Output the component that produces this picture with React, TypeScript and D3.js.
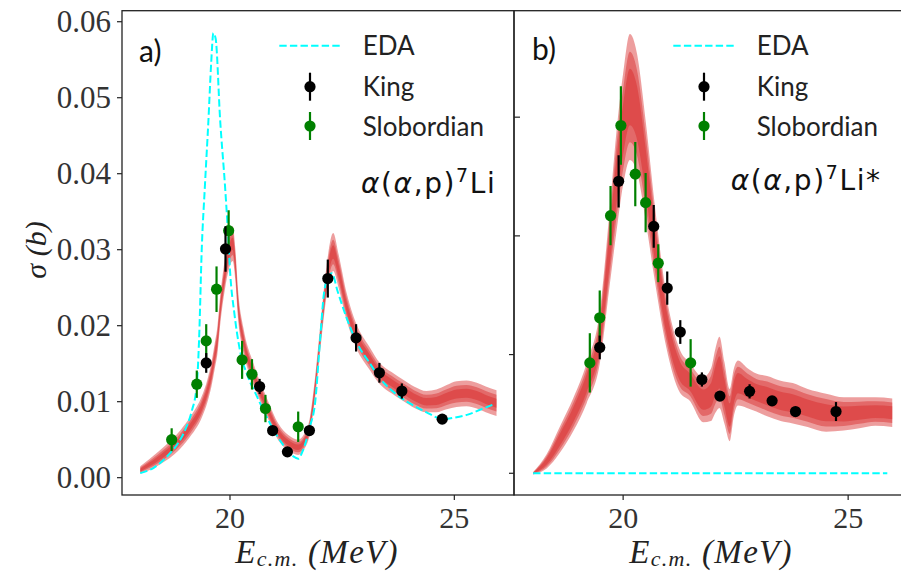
import React from "react";
import * as d3 from "d3";

// ---------- data ----------
const ticksLeftY = [0, 0.01, 0.02, 0.03, 0.04, 0.05, 0.06];
const ticksLeftYLabels = ["0.00", "0.01", "0.02", "0.03", "0.04", "0.05", "0.06"];
const ticksRightY = [0, 0.01, 0.02, 0.03];
const ticksX = [20, 25];

// Panel a) EDA curve
const edaLeftE = [18.0, 18.3, 18.66, 18.85, 19.03, 19.15, 19.26, 19.31, 19.37, 19.44, 19.52, 19.58, 19.63, 19.68, 19.78, 19.89, 19.96, 20.0, 20.1, 20.22, 20.4, 20.6, 20.8, 20.97, 21.2, 21.41, 21.52, 21.62, 21.78, 21.9, 22.0, 22.1, 22.2, 22.27, 22.4, 22.6, 22.85, 23.1, 23.34, 23.7, 24.0, 24.38, 24.75, 25.0, 25.3, 25.6, 25.9];
const edaLeftS = [0.0006, 0.0013, 0.0032, 0.0046, 0.0067, 0.0088, 0.0122, 0.018, 0.03, 0.0383, 0.0471, 0.0545, 0.0585, 0.0578, 0.0471, 0.0383, 0.0317, 0.0273, 0.0215, 0.0168, 0.0133, 0.0107, 0.0082, 0.0063, 0.0042, 0.0028, 0.0025, 0.0035, 0.0067, 0.01, 0.0175, 0.0245, 0.0265, 0.0269, 0.0245, 0.021, 0.0175, 0.0152, 0.0131, 0.011, 0.0098, 0.0086, 0.0077, 0.0079, 0.0083, 0.009, 0.0097];

// Panel a) model band
const bandLeftE = [18.0, 18.4, 18.89, 19.15, 19.37, 19.5, 19.59, 19.66, 19.72, 19.79, 19.89, 19.97, 20.06, 20.12, 20.18, 20.3, 20.52, 20.82, 21.08, 21.3, 21.52, 21.65, 21.78, 21.9, 22.04, 22.15, 22.3, 22.42, 22.6, 22.82, 23.1, 23.34, 23.6, 23.86, 24.1, 24.38, 24.6, 24.83, 25.05, 25.27, 25.5, 25.7, 25.94];
const bandLeftMid = [0.001, 0.0025, 0.005, 0.007, 0.0093, 0.0115, 0.0137, 0.016, 0.0181, 0.0225, 0.0269, 0.0295, 0.0308, 0.028, 0.0228, 0.0181, 0.0137, 0.0093, 0.006, 0.0046, 0.004, 0.0047, 0.0068, 0.012, 0.02, 0.0258, 0.0297, 0.0272, 0.0225, 0.0186, 0.0158, 0.0137, 0.0125, 0.0115, 0.0106, 0.01, 0.0101, 0.0106, 0.011, 0.0111, 0.0108, 0.0103, 0.0098];
const bandLeftHw = [0.0005, 0.0009, 0.0012, 0.0013, 0.0014, 0.0015, 0.0016, 0.0017, 0.0018, 0.0019, 0.002, 0.0022, 0.0023, 0.0021, 0.0019, 0.0016, 0.0014, 0.0012, 0.0011, 0.001, 0.001, 0.001, 0.0011, 0.0014, 0.0017, 0.002, 0.0025, 0.0022, 0.0018, 0.0016, 0.0015, 0.0014, 0.0014, 0.0014, 0.0014, 0.0014, 0.0015, 0.0016, 0.0017, 0.0017, 0.0017, 0.0017, 0.0017];

// Panel a) data
const kingLeftE = [19.47, 19.9, 20.66, 20.95, 21.28, 21.77, 22.18, 22.81, 23.33, 23.83, 24.73];
const kingLeftS = [0.0151, 0.0301, 0.012, 0.0062, 0.0034, 0.0062, 0.0262, 0.0184, 0.0138, 0.0114, 0.0077];
const kingLeftErr = [0.0013, 0.003, 0.001, 0.0005, 0.0004, 0.0005, 0.0025, 0.0018, 0.0013, 0.001, 0.0006];
const slobLeftE = [18.7, 19.26, 19.47, 19.7, 19.97, 20.27, 20.49, 20.79, 21.52];
const slobLeftS = [0.005, 0.0123, 0.018, 0.0248, 0.0325, 0.0155, 0.0136, 0.0091, 0.0067];
const slobLeftErr = [0.0015, 0.0018, 0.0022, 0.003, 0.0027, 0.0025, 0.002, 0.0018, 0.002];

// Panel b) EDA (flat)
const edaRightE = [18.0, 25.87];
const edaRightS = [0, 0];

// Panel b) model band
const bandRightE = [18.0, 18.3, 18.59, 18.9, 19.19, 19.48, 19.7, 19.85, 20.0, 20.15, 20.3, 20.5, 20.7, 20.96, 21.26, 21.48, 21.78, 21.95, 22.05, 22.14, 22.25, 22.37, 22.46, 22.55, 22.75, 22.96, 23.2, 23.5, 23.77, 24.1, 24.51, 24.9, 25.25, 25.6, 25.98];
const bandRightMid = [0.0, 0.001, 0.0028, 0.005, 0.0076, 0.0114, 0.019, 0.0245, 0.029, 0.0317, 0.0305, 0.0255, 0.0195, 0.0128, 0.0086, 0.0077, 0.0062, 0.0066, 0.0078, 0.0085, 0.0068, 0.0049, 0.0068, 0.0076, 0.0072, 0.0068, 0.0065, 0.0061, 0.0059, 0.0055, 0.0051, 0.005, 0.0051, 0.0052, 0.0051];
const bandRightHw = [0.0001, 0.0006, 0.0011, 0.0014, 0.0017, 0.0022, 0.0032, 0.0042, 0.0047, 0.0053, 0.005, 0.0042, 0.0032, 0.0022, 0.0018, 0.0016, 0.0019, 0.0022, 0.0027, 0.003, 0.0026, 0.0022, 0.002, 0.0019, 0.0017, 0.0016, 0.0017, 0.0017, 0.0017, 0.0016, 0.0016, 0.0014, 0.0013, 0.0012, 0.0012];

// Panel b) data
const kingRightE = [19.48, 19.9, 20.68, 20.98, 21.27, 21.75, 22.15, 22.81, 23.31, 23.83, 24.73];
const kingRightS = [0.0106, 0.0246, 0.0208, 0.0156, 0.0119, 0.0079, 0.0065, 0.0069, 0.0061, 0.0052, 0.0052];
const kingRightErr = [0.001, 0.0022, 0.0018, 0.0014, 0.001, 0.0006, 0.0004, 0.0006, 0.0004, 0.0004, 0.0008];
const slobRightE = [19.26, 19.48, 19.72, 19.95, 20.27, 20.5, 20.78, 21.5];
const slobRightS = [0.0093, 0.0131, 0.0217, 0.0293, 0.0252, 0.0228, 0.0177, 0.0093];
const slobRightErr = [0.0025, 0.0023, 0.0025, 0.0033, 0.0027, 0.0025, 0.0016, 0.002];

const legendLabels = ["EDA", "King", "Slobordian"];

// ---------- layout ----------
const W = 901, H = 571;
const TOP = 10.7, BOT = 495;
const xL = d3.scaleLinear().domain([17.593, 26.33]).range([122, 514]);
const yL = d3.scaleLinear().domain([-0.00228, 0.06145]).range([BOT, TOP]);
const xR = d3.scaleLinear().domain([17.575, 26.33]).range([514, 908]);
const yR = d3.scaleLinear().domain([-0.00183, 0.03897]).range([BOT, TOP]);

const RED = "#d62728";
const CYAN = "#00ffff";
const GREEN = "#008000";
const SANS = "Lato, 'Open Sans', sans-serif";
const WIDE = "'DejaVu Sans', sans-serif";
const SERIF = "'Liberation Serif', 'DejaVu Serif', serif";

function Band({ E, mid, hw, x, y, fracs, op }: any) {
  const idx = d3.range(E.length);
  return (
    <g>
      {fracs.map((f: number, k: number) => {
        const a = d3
          .area<number>()
          .x((i) => x(E[i]))
          .y0((i) => y(mid[i] - hw[i] * f))
          .y1((i) => y(mid[i] + hw[i] * f))
          .curve(d3.curveMonotoneX);
        return <path key={k} d={a(idx) || ""} fill={RED} fillOpacity={op} stroke="none" />;
      })}
    </g>
  );
}

function Dashed({ E, S, x, y }: any) {
  const idx = d3.range(E.length);
  const l = d3
    .line<number>()
    .x((i) => x(E[i]))
    .y((i) => y(S[i]))
    .curve(d3.curveMonotoneX);
  return <path d={l(idx) || ""} fill="none" stroke={CYAN} strokeWidth={2} strokeDasharray="7.4,3.2" />;
}

function Points({ E, S, err, x, y, color }: any) {
  return (
    <g>
      {E.map((e: number, i: number) => (
        <g key={i}>
          <line x1={x(e)} x2={x(e)} y1={y(S[i] - err[i])} y2={y(S[i] + err[i])} stroke={color} strokeWidth={2.2} />
          <circle cx={x(e)} cy={y(S[i])} r={5.6} fill={color} />
        </g>
      ))}
    </g>
  );
}

function Legend({ lineX1, lineX2, markX, textX }: any) {
  const rows = [45.7, 86.7, 126];
  return (
    <g>
      <line x1={lineX1} x2={lineX2} y1={rows[0]} y2={rows[0]} stroke={CYAN} strokeWidth={2} strokeDasharray="7.4,3.2" />
      <line x1={markX} x2={markX} y1={rows[1] - 14} y2={rows[1] + 14} stroke="#000" strokeWidth={2.2} />
      <circle cx={markX} cy={rows[1]} r={5.6} fill="#000" />
      <line x1={markX} x2={markX} y1={rows[2] - 14} y2={rows[2] + 14} stroke={GREEN} strokeWidth={2.2} />
      <circle cx={markX} cy={rows[2]} r={5.6} fill={GREEN} />
      {legendLabels.map((t, i) => (
        <text key={t} x={textX} y={rows[i] + 9.5} fontFamily={SANS} fontSize={26} fill="#222">
          {t}
        </text>
      ))}
    </g>
  );
}

function Reaction({ x, y, star }: any) {
  return (
    <text x={x} y={y} fontFamily={WIDE} fontSize={28} letterSpacing={1.6} fill="#111">
      <tspan fontStyle="italic">α</tspan>
      <tspan>(</tspan>
      <tspan fontStyle="italic">α</tspan>
      <tspan>,p)</tspan>
      <tspan fontSize={19} dy={-11}>7</tspan>
      <tspan dy={11}>{star ? "Li*" : "Li"}</tspan>
    </text>
  );
}

function XLabel({ cx }: any) {
  return (
    <text x={cx} y={563} textAnchor="middle" fontFamily={SERIF} fontStyle="italic" fontSize={33} letterSpacing={1.3} fill="#222">
      E<tspan fontSize={22} dy={3}>c.m.</tspan>
      <tspan dy={-3}> (MeV)</tspan>
    </text>
  );
}

export default function App() {
  const axisColor = "#222";
  return (
    <svg width={W} height={H} style={{ position: "absolute", left: 0, top: 0, background: "#fff" }}>
      <defs>
        <clipPath id="clipL">
          <rect x={122} y={TOP} width={392} height={BOT - TOP} />
        </clipPath>
        <clipPath id="clipR">
          <rect x={514} y={TOP} width={394} height={BOT - TOP} />
        </clipPath>
      </defs>

      {/* Panel a */}
      <g clipPath="url(#clipL)">
        <Band E={bandLeftE} mid={bandLeftMid} hw={bandLeftHw} x={xL} y={yL} fracs={[1, 0.65, 0.35]} op={0.45} />
        <Dashed E={edaLeftE} S={edaLeftS} x={xL} y={yL} />
        <Points E={slobLeftE} S={slobLeftS} err={slobLeftErr} x={xL} y={yL} color={GREEN} />
        <Points E={kingLeftE} S={kingLeftS} err={kingLeftErr} x={xL} y={yL} color="#000" />
      </g>

      {/* Panel b */}
      <g clipPath="url(#clipR)">
        <Band E={bandRightE} mid={bandRightMid} hw={bandRightHw} x={xR} y={yR} fracs={[1, 0.72, 0.45]} op={0.45} />
        <Dashed E={edaRightE} S={edaRightS} x={xR} y={yR} />
        <Points E={slobRightE} S={slobRightS} err={slobRightErr} x={xR} y={yR} color={GREEN} />
        <Points E={kingRightE} S={kingRightS} err={kingRightErr} x={xR} y={yR} color="#000" />
      </g>

      {/* frames */}
      <rect x={122} y={TOP} width={392} height={BOT - TOP} fill="none" stroke={axisColor} strokeWidth={1.3} />
      <rect x={514} y={TOP} width={394} height={BOT - TOP} fill="none" stroke={axisColor} strokeWidth={1.3} />

      {/* left y ticks */}
      {ticksLeftY.map((t, i) => (
        <g key={t}>
          <line x1={117} x2={122} y1={yL(t)} y2={yL(t)} stroke={axisColor} strokeWidth={1.2} />
          <text x={111} y={yL(t)} dy="0.34em" textAnchor="end" fontFamily={SERIF} fontSize={31} fill="#333">
            {ticksLeftYLabels[i]}
          </text>
        </g>
      ))}
      {/* right y ticks */}
      {ticksRightY.map((t) => (
        <line key={t} x1={t >= 0.02 ? 514 : 509} x2={t >= 0.02 ? 520 : 514} y1={yR(t)} y2={yR(t)} stroke={axisColor} strokeWidth={1.2} />
      ))}
      {/* x ticks */}
      {ticksX.map((t) => (
        <g key={"l" + t}>
          <line x1={xL(t)} x2={xL(t)} y1={BOT} y2={BOT + 5} stroke={axisColor} strokeWidth={1.2} />
          <text x={xL(t)} y={528} textAnchor="middle" fontFamily={SERIF} fontSize={30} fill="#333">
            {t}
          </text>
          <line x1={xR(t)} x2={xR(t)} y1={BOT} y2={BOT + 5} stroke={axisColor} strokeWidth={1.2} />
          <text x={xR(t)} y={528} textAnchor="middle" fontFamily={SERIF} fontSize={30} fill="#333">
            {t}
          </text>
        </g>
      ))}

      <XLabel cx={317} />
      <XLabel cx={711} />

      <text
        transform={`translate(46, 250) rotate(-90)`}
        textAnchor="middle"
        fontFamily={SERIF}
        fontStyle="italic"
        fontSize={30}
        fill="#222"
      >
        σ (b)
      </text>

      <text x={139} y={62} fontFamily={SANS} fontSize={30} fill="#111">a)</text>
      <text x={532} y={60} fontFamily={SANS} fontSize={30} fill="#111">b)</text>

      <Legend lineX1={279.3} lineX2={340} markX={310} textX={362.7} />
      <Legend lineX1={673.3} lineX2={734} markX={704} textX={756.7} />

      <Reaction x={361} y={193} />
      <Reaction x={730.7} y={189.5} star />
    </svg>
  );
}
